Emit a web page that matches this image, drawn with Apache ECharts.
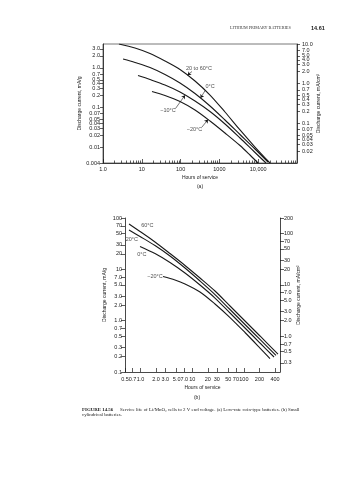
<!DOCTYPE html>
<html><head><meta charset="utf-8">
<script src="https://cdn.jsdelivr.net/npm/echarts@6/dist/echarts.min.js"></script>
<style>html,body{margin:0;padding:0;background:#fff}#c{width:357px;height:480px}</style>
</head><body><div id="c"></div>
<script>
// ---------- Chart (a): low-rate coin-type batteries ----------
const aXTicks = [1, 10, 100, 1000, 10000];
const aXLabels = ['1.0', '10', '100', '1000', '10,000'];
const aMinorMult = [2, 3, 4, 5, 6, 7, 8, 9];
const aYLeftTicks = [4, 3, 2, 1, 0.7, 0.5, 0.4, 0.3, 0.2, 0.1, 0.07, 0.05, 0.04, 0.03, 0.02, 0.01, 0.004];
const aYLeftLabels = ['4.0', '3.0', '2.0', '1.0', '0.7', '0.5', '0.4', '0.3', '0.2', '0.1', '0.07', '0.05', '0.04', '0.03', '0.02', '0.01', '0.004'];
const aYRightTicks = [10, 7, 5, 4, 3, 2, 1, 0.7, 0.5, 0.4, 0.3, 0.2, 0.1, 0.07, 0.05, 0.04, 0.03, 0.02];
const aYRightLabels = ['10.0', '7.0', '5.0', '4.0', '3.0', '2.0', '1.0', '0.7', '0.5', '0.4', '0.3', '0.2', '0.1', '0.07', '0.05', '0.04', '0.03', '0.02'];

const a2060Hours = [2.58, 6.68, 16.3, 39.6, 96.5, 235, 573, 1394, 3396, 8272, 20100];
const a2060 = [4.0, 3.17, 2.30, 1.49, 0.91, 0.467, 0.207, 0.0772, 0.0272, 0.0101, 0.0040];
const a0Hours = [3.28, 6.68, 16.3, 39.6, 96.5, 235, 573, 1394, 3396, 8272, 17900];
const a0 = [1.674, 1.366, 1.022, 0.681, 0.416, 0.226, 0.1094, 0.0485, 0.0209, 0.00902, 0.00424];
const am10Hours = [7.98, 16.3, 39.6, 96.5, 235, 573, 1394, 3396, 7795, 15900];
const am10 = [0.642, 0.509, 0.370, 0.2466, 0.1462, 0.0795, 0.0385, 0.01708, 0.0078, 0.0040];
const am20Hours = [18.3, 39.6, 96.5, 235, 573, 1394, 3396, 6150, 9880];
const am20 = [0.2539, 0.2012, 0.142, 0.0867, 0.0458, 0.0228, 0.01105, 0.00636, 0.0040];

const aNoteText = ['20 to 60°C', '0°C', '−10°C', '−20°C'];
const aNoteAt = [[298, 0.965], [573, 0.330], [47.4, 0.0833], [228, 0.0272]];
const aArrowFrom = [[196.7, 0.810], [438, 0.2768], [73.9, 0.0946], [356, 0.0323]];
const aArrowTo = [[150.6, 0.654], [325.7, 0.1741], [129.9, 0.2047], [508.4, 0.0497]];

// ---------- Chart (b): small cylindrical batteries ----------
const bXTicks = [0.5, 0.7, 1, 2, 3, 5, 7, 10, 20, 30, 50, 70, 100, 200, 400];
const bXLabels = ['0.5', '0.7', '1.0', '2.0', '3.0', '5.0', '7.0', '10', '20', '30', '50', '70', '100', '200', '400'];
const bYLeftTicks = [100, 70, 50, 30, 20, 10, 7, 5, 3, 2, 1, 0.7, 0.5, 0.3, 0.2, 0.1];
const bYLeftLabels = ['100', '70', '50', '30', '20', '10', '7.0', '5.0', '3.0', '2.0', '1.0', '0.7', '0.5', '0.3', '0.2', '0.1'];
const bYRightTicks = [200, 100, 70, 50, 30, 20, 10, 7, 5, 3, 2, 1, 0.7, 0.5, 0.3];
const bYRightLabels = ['200', '100', '70', '50', '30', '20', '10', '7.0', '5.0', '3.0', '2.0', '1.0', '0.7', '0.5', '0.3'];

const b60Hours = [0.598, 0.976, 1.904, 3.715, 7.25, 14.14, 27.6, 53.9, 105.1, 205, 457];
const b60 = [76.4, 54.6, 34.1, 20.3, 11.9, 6.78, 3.78, 1.93, 0.985, 0.503, 0.224];
const b20Hours = [0.598, 0.976, 1.904, 3.715, 7.25, 14.14, 27.6, 53.9, 105.1, 205, 418];
const b20 = [58.3, 43.6, 29.1, 18.2, 10.6, 5.93, 3.23, 1.65, 0.842, 0.430, 0.210];
const b0Hours = [0.976, 1.904, 3.715, 7.25, 14.14, 27.6, 53.9, 105.1, 205, 383];
const b0 = [27.9, 20.3, 13.6, 8.48, 4.95, 2.76, 1.41, 0.720, 0.367, 0.196];
const bm20Hours = [2.72, 4.64, 7.25, 14.14, 27.6, 53.9, 105.1, 205, 320];
const bm20 = [7.25, 6.20, 5.18, 3.62, 2.11, 1.15, 0.588, 0.293, 0.183];

const bNoteText = ['60°C', '20°C', '0°C', '−20°C'];
const bNoteAt = [[1.35, 73], [0.68, 39], [1.06, 19.9], [1.9, 7.1]];

// ---------- helpers ----------
const L = Math.log10;
const INK = '#1a1a1a';
const SANS = '"Liberation Sans", Arial, sans-serif';
const FS = 5.5;
function pts(hours, vals) { return hours.map((h, i) => [L(h), L(vals[i])]); }
function labeler(ticks, labels) {
  return function (v) {
    for (let i = 0; i < ticks.length; i++) if (Math.abs(L(ticks[i]) - v) < 1e-6) return labels[i];
    return '';
  };
}
function curve(hours, vals, xi, yi) {
  return {
    type: 'line', xAxisIndex: xi, yAxisIndex: yi, data: pts(hours, vals),
    showSymbol: false, smooth: 0.3, silent: true,
    lineStyle: { color: INK, width: 1.1 }
  };
}
const aMinor = [];
aXTicks.forEach(t => { aMinorMult.forEach(m => aMinor.push(L(t * m))); });

const axisLineStyle = { show: true, onZero: false, lineStyle: { color: INK, width: 0.8 } };
const tickStyle = { color: INK, width: 0.7 };
const labelStyle = { fontSize: FS, color: INK, fontFamily: SANS };
const nameStyle = { fontSize: 5, color: INK, fontFamily: SANS };

function yAxisDef(grid, pos, min, max, ticks, labels, tickLen, margin, name, nameGap) {
  return {
    type: 'value', gridIndex: grid, position: pos, min: L(min), max: L(max),
    axisLine: axisLineStyle, splitLine: { show: false },
    axisTick: { show: true, inside: false, length: tickLen, lineStyle: tickStyle, customValues: ticks.map(L) },
    axisLabel: Object.assign({ customValues: ticks.map(L), formatter: labeler(ticks, labels), margin: margin }, labelStyle),
    name: name, nameLocation: 'middle', nameRotate: 90, nameGap: nameGap, nameMoveOverlap: false, nameTextStyle: nameStyle
  };
}

const option = {
  animation: false,
  backgroundColor: '#fff',
  grid: [
    { left: 103, right: 60, top: 44, bottom: 317, show: true, borderColor: '#555', borderWidth: 0.8 },
    { left: 125, right: 77, top: 218, bottom: 108 }
  ],
  xAxis: [
    {
      type: 'value', gridIndex: 0, min: 0, max: 5, position: 'bottom',
      axisLine: axisLineStyle, splitLine: { show: false },
      axisTick: { show: true, inside: true, length: 4, lineStyle: tickStyle, customValues: aXTicks.map(L) },
      axisLabel: Object.assign({ customValues: aXTicks.map(L), formatter: labeler(aXTicks, aXLabels), margin: 3 }, labelStyle),
      name: 'Hours of service', nameLocation: 'middle', nameGap: 12, nameMoveOverlap: false, nameTextStyle: nameStyle
    },
    {
      type: 'value', gridIndex: 0, min: 0, max: 5, position: 'bottom', offset: 0,
      axisLine: { show: false, onZero: false }, splitLine: { show: false }, axisLabel: { show: false },
      axisTick: { show: true, inside: true, length: 2.5, lineStyle: tickStyle, customValues: aMinor }
    },
    {
      type: 'value', gridIndex: 1, min: L(0.5), max: L(500), position: 'bottom',
      axisLine: axisLineStyle, splitLine: { show: false },
      axisTick: { show: true, inside: true, length: 4, lineStyle: tickStyle, customValues: bXTicks.map(L) },
      axisLabel: Object.assign({ customValues: bXTicks.map(L), formatter: labeler(bXTicks, bXLabels), margin: 4, hideOverlap: false }, labelStyle),
      name: 'Hours of service', nameLocation: 'middle', nameGap: 13, nameMoveOverlap: false, nameTextStyle: nameStyle
    }
  ],
  yAxis: [
    yAxisDef(0, 'left', 0.004, 4, aYLeftTicks, aYLeftLabels, 3, 3, 'Discharge current, mA/g', 21),
    yAxisDef(0, 'right', 0.01, 10, aYRightTicks, aYRightLabels, 3, 5, 'Discharge current, mA/cm²', 19.5),
    yAxisDef(1, 'left', 0.1, 100, bYLeftTicks, bYLeftLabels, 4, 3, 'Discharge current, mA/g', 18),
    yAxisDef(1, 'right', 0.2, 200, bYRightTicks, bYRightLabels, 4, 4, 'Discharge current, mA/cm²', 16)
  ],
  series: [
    curve(a2060Hours, a2060, 0, 0),
    curve(a0Hours, a0, 0, 0),
    curve(am10Hours, am10, 0, 0),
    curve(am20Hours, am20, 0, 0),
    curve(b60Hours, b60, 2, 2),
    curve(b20Hours, b20, 2, 2),
    curve(b0Hours, b0, 2, 2),
    curve(bm20Hours, bm20, 2, 2),
    {
      type: 'scatter', xAxisIndex: 0, yAxisIndex: 0, symbolSize: 0, silent: true,
      data: aNoteText.map((t, i) => ({ name: t, value: [L(aNoteAt[i][0]), L(aNoteAt[i][1])] })),
      label: { show: true, position: 'inside', formatter: '{b}', fontSize: FS, color: INK, fontFamily: SANS }
    },
    {
      type: 'scatter', xAxisIndex: 2, yAxisIndex: 2, symbolSize: 0, silent: true,
      data: bNoteText.map((t, i) => ({ name: t, value: [L(bNoteAt[i][0]), L(bNoteAt[i][1])] })),
      label: { show: true, position: 'inside', formatter: '{b}', fontSize: FS, color: INK, fontFamily: SANS }
    },
    {
      type: 'lines', coordinateSystem: 'cartesian2d', xAxisIndex: 0, yAxisIndex: 0, silent: true,
      symbol: ['none', 'arrow'], symbolSize: [0, 3.5],
      lineStyle: { color: INK, width: 0.6, opacity: 1 },
      data: aArrowFrom.map((f, i) => ({ coords: [[L(f[0]), L(f[1])], [L(aArrowTo[i][0]), L(aArrowTo[i][1])]] }))
    }
  ],
  graphic: [
    { type: 'text', x: 230, y: 28, style: { text: 'LITHIUM PRIMARY BATTERIES', font: '4.2px "Liberation Serif", serif', fill: '#333', verticalAlign: 'middle' } },
    { type: 'text', x: 311, y: 28, style: { text: '14.61', font: 'bold 5.5px ' + SANS, fill: INK, verticalAlign: 'middle' } },
    { type: 'text', x: 200, y: 187, style: { text: '(a)', font: '5px ' + SANS, fill: INK, align: 'center', verticalAlign: 'middle' } },
    { type: 'text', x: 197, y: 398, style: { text: '(b)', font: '5px ' + SANS, fill: INK, align: 'center', verticalAlign: 'middle' } },
    { type: 'text', x: 82, y: 409.3, style: { text: 'FIGURE 14.56', font: 'bold 4.9px "Liberation Serif", serif', fill: INK, verticalAlign: 'middle' } },
    { type: 'text', x: 120, y: 409.3, style: { text: 'Service life of Li/MnO₂ cells to 2 V end voltage. (a) Low-rate coin-type batteries. (b) Small', font: '4.9px "Liberation Serif", serif', fill: INK, verticalAlign: 'middle' } },
    { type: 'text', x: 82, y: 414.6, style: { text: 'cylindrical batteries.', font: '4.9px "Liberation Serif", serif', fill: INK, verticalAlign: 'middle' } }
  ]
};
const chart = echarts.init(document.getElementById('c'), null, { renderer: 'canvas' });
chart.setOption(option);
</script></body></html>
